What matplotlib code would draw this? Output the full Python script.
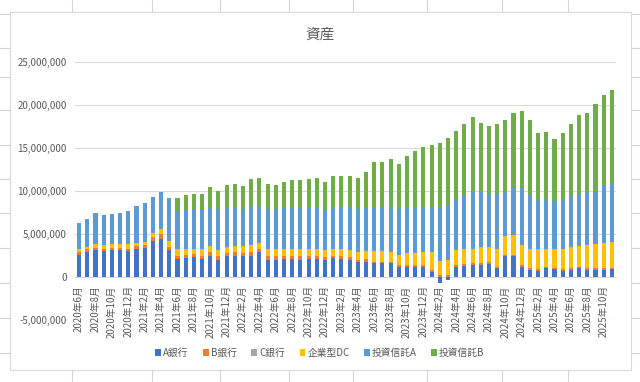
import numpy as np
import matplotlib
matplotlib.use('Agg')
import matplotlib.pyplot as plt
from matplotlib.patches import Rectangle, Patch
from matplotlib.lines import Line2D
from matplotlib.ticker import FuncFormatter

plt.rcParams['font.family'] = ['Noto Sans CJK JP', 'DejaVu Sans']

# monthly categories 2020年6月 .. 2025年11月
months = [f"{y}年{m}月" for y in range(2020, 2026) for m in range(1, 13)][5:71]

# values in millions of yen
a_bank = [2.6, 2.9, 3.1, 3.0, 3.1, 3.1, 3.0, 3.3, 3.4, 4.2, 4.4, 3.1,
          2.1, 2.2, 2.3, 2.1, 2.5, 2.0, 2.4, 2.5, 2.4, 2.5, 2.9, 2.0,
          2.0, 2.1, 2.1, 2.0, 2.1, 2.1, 2.0, 2.2, 2.1, 2.0, 1.7, 1.8,
          1.6, 1.6, 1.6, 1.2, 1.2, 1.2, 1.2, 0.6, -0.7, -0.35, 1.2, 1.3,
          1.4, 1.4, 1.5, 1.0, 2.4, 2.4, 1.2, 0.8, 0.75, 1.0, 0.9, 0.75,
          0.85, 1.0, 0.85, 0.85, 0.85, 0.9]
b_bank = [0.3, 0.3, 0.3, 0.3, 0.3, 0.3, 0.3, 0.3, 0.3, 0.4, 0.6, 0.4,
          0.4, 0.4, 0.4, 0.4, 0.4, 0.4, 0.4, 0.4, 0.4, 0.4, 0.4, 0.4,
          0.4, 0.4, 0.4, 0.4, 0.4, 0.4, 0.3, 0.3, 0.3, 0.3, 0.3, 0.3,
          0.2, 0.2, 0.2, 0.2, 0.2, 0.2, 0.2, 0.2, 0.2, 0.2, 0.2, 0.2,
          0.2, 0.2, 0.2, 0.2, 0.2, 0.2, 0.2, 0.2, 0.2, 0.2, 0.2, 0.2,
          0.2, 0.2, 0.2, 0.2, 0.2, 0.2]
c_bank = [0.0] * 66
dc = [0.3, 0.3, 0.4, 0.4, 0.4, 0.4, 0.5, 0.4, 0.4, 0.5, 0.6, 0.7,
      0.7, 0.6, 0.6, 0.7, 0.7, 0.7, 0.7, 0.7, 0.8, 0.8, 0.7, 0.8,
      0.8, 0.8, 0.8, 0.9, 0.8, 0.8, 0.8, 0.8, 0.8, 0.8, 0.9, 0.9,
      1.2, 1.2, 1.1, 1.2, 1.4, 1.4, 1.5, 2.1, 1.7, 1.8, 1.7, 1.7,
      1.7, 1.9, 1.8, 2.0, 2.2, 2.3, 2.3, 2.3, 2.35, 2.1, 2.2, 2.35,
      2.45, 2.4, 2.65, 2.75, 2.95, 3.0]
fund_a = [3.1, 3.3, 3.6, 3.5, 3.5, 3.7, 3.9, 4.2, 4.5, 4.2, 4.25, 4.95,
          4.5, 4.6, 4.6, 4.7, 4.4, 4.8, 4.5, 4.4, 4.3, 4.5, 4.3, 4.7,
          4.7, 4.7, 4.7, 4.7, 4.7, 4.7, 4.7, 4.8, 4.9, 5.0, 5.0, 5.0,
          5.1, 5.1, 5.2, 5.3, 5.2, 5.2, 5.2, 5.1, 6.2, 6.4, 5.9, 6.3,
          6.6, 6.4, 6.1, 6.4, 5.1, 5.6, 6.8, 6.2, 5.7, 5.7, 5.5, 5.7,
          6.0, 6.1, 6.2, 6.25, 6.7, 6.8]
fund_b = [0, 0, 0, 0, 0, 0, 0, 0, 0, 0, 0, 0,
          1.45, 1.7, 1.7, 1.7, 2.5, 2.1, 2.7, 2.8, 2.7, 3.2, 3.2, 2.9,
          2.8, 3.1, 3.3, 3.3, 3.4, 3.55, 3.2, 3.6, 3.6, 3.7, 3.6, 4.2,
          5.3, 5.3, 5.65, 5.2, 6.1, 6.65, 7.05, 7.3, 7.5, 7.8, 8.0, 8.25,
          8.75, 7.95, 8.0, 8.2, 8.35, 8.6, 8.8, 8.7, 7.8, 7.9, 7.2, 7.8,
          8.3, 9.15, 9.2, 10.05, 10.5, 10.85]

series = [('A銀行', a_bank, '#4472C4'),
          ('B銀行', b_bank, '#ED7D31'),
          ('C銀行', c_bank, '#A5A5A5'),
          ('企業型DC', dc, '#FFC000'),
          ('投資信託A', fund_a, '#5B9BD5'),
          ('投資信託B', fund_b, '#70AD47')]

W, H = 640, 382
fig = plt.figure(figsize=(6.4, 3.82), dpi=100)

# spreadsheet cells behind the chart
grid_c = '#D4D4D4'
for yp in [14, 48, 77, 110, 145, 179, 213, 248, 283, 318, 353]:
    fig.add_artist(Line2D([0, 1], [1 - yp / H] * 2, color=grid_c, lw=0.8, zorder=-3))
for xp in [72, 152, 220, 289, 353, 427, 502, 568]:
    fig.add_artist(Line2D([xp / W] * 2, [0, 1], color=grid_c, lw=0.8, zorder=-3))
fig.add_artist(Rectangle((10 / W, 1 - 370 / H), 621 / W, 358 / H,
                         facecolor='white', edgecolor='#D9D9D9', lw=0.8,
                         zorder=-2))

ax = fig.add_axes([75 / W, (H - 320) / H, 541 / W, 258 / H])
ax.patch.set_alpha(0)

x = np.arange(len(months))
pos = np.zeros(len(months))
neg = np.zeros(len(months))
for name, vals, col in series:
    v = np.array(vals) * 1e6
    bottom = np.where(v >= 0, pos, neg)
    ax.bar(x, v, 0.5, bottom=bottom, color=col, label=name, zorder=2)
    pos = pos + np.where(v >= 0, v, 0)
    neg = neg + np.where(v < 0, v, 0)

ax.set_xlim(-0.5, len(months) - 0.5)
ax.set_ylim(-5e6, 25e6)
ax.set_yticks(np.arange(-5e6, 25e6 + 1, 5e6))
ax.yaxis.set_major_formatter(FuncFormatter(lambda v, p: f"{v:,.0f}"))
ax.yaxis.grid(True, color='#D9D9D9', lw=0.8, zorder=0)
ax.set_axisbelow(True)
for s in ['left', 'right', 'top']:
    ax.spines[s].set_visible(False)
ax.spines['bottom'].set_position(('data', 0))
ax.spines['bottom'].set_color('#D9D9D9')
ax.spines['bottom'].set_zorder(1)

ax.set_xticks(x[::2])
ax.set_xticklabels(months[::2], rotation=90, fontsize=7, color='#595959')
ax.tick_params(axis='x', length=0, pad=6)
ax.tick_params(axis='y', length=0, labelsize=7, labelcolor='#595959', pad=6)

fig.text(0.5, 1 - 35 / H, '資産', ha='center', va='center',
         fontsize=10.5, color='#595959')

handles = [Patch(facecolor=c) for _, _, c in series]
leg = fig.legend(handles, [n for n, _, _ in series], loc='center',
                 bbox_to_anchor=(0.5, 1 - 353 / H), ncol=6, frameon=False,
                 fontsize=7, handlelength=0.6, handleheight=0.6,
                 handletextpad=0.2, columnspacing=1.5)
for t in leg.get_texts():
    t.set_color('#595959')

fig.savefig('out.png', dpi=100)
